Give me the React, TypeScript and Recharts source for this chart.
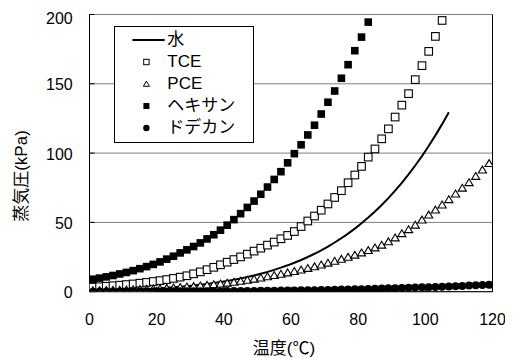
import React from 'react';
import { ScatterChart, Scatter, XAxis, YAxis, CartesianGrid, ReferenceLine, Legend, Label } from 'recharts';

const FONT = '"Liberation Sans", Arial, "Noto Sans CJK JP", sans-serif';

// temperatures (°C) at which the values were sampled
const tempsC = [1, 3, 5, 7, 9, 11, 13, 15, 17, 19, 21, 23, 25, 27, 29, 31, 33, 35, 37, 39, 41, 43, 45, 47, 49, 51, 53, 55, 57, 59, 61, 63, 65, 67, 69, 71, 73, 75, 77, 79, 81, 83, 85, 87, 89, 91, 93, 95, 97, 99, 101, 103, 105, 107, 109, 111, 113, 115, 117, 119];

const waterKPa = [0.657, 0.758, 0.873, 1.002, 1.148, 1.313, 1.498, 1.706, 1.938, 2.198, 2.487, 2.81, 3.169, 3.567, 4.008, 4.496, 5.034, 5.628, 6.281, 7.0, 7.788, 8.652, 9.596, 10.63, 11.75, 12.98, 14.31, 15.76, 17.34, 19.04, 20.89, 22.88, 25.04, 27.37, 29.88, 32.58, 35.48, 38.6, 41.94, 45.53, 49.37, 53.48, 57.87, 62.56, 67.55, 72.88, 78.56, 84.6, 91.03, 97.86, 105.1, 112.8, 120.9, 129.5];

const tceKPa = [3.3, 3.6, 3.95, 4.3, 4.7, 5.15, 5.6, 6.15, 6.7, 7.35, 8.0, 8.75, 9.6, 10.5, 11.5, 12.9, 14.3, 15.9, 17.6, 19.4, 21.3, 23.2, 25.1, 27.1, 29.3, 31.4, 33.6, 35.8, 38.2, 40.6, 43.4, 47.0, 51.0, 54.6, 58.8, 63.3, 68.0, 72.9, 78.6, 84.2, 90.4, 97.1, 103.0, 110.3, 117.5, 126.0, 134.6, 142.9, 153.0, 163.1, 173.4, 184.2, 195.7];

const pceKPa = [0.7, 0.79, 0.89, 1.0, 1.12, 1.26, 1.41, 1.58, 1.77, 1.98, 2.2, 2.45, 2.75, 3.05, 3.4, 3.75, 4.15, 4.6, 5.1, 5.6, 6.2, 6.8, 7.5, 8.3, 9.1, 9.9, 10.8, 11.7, 12.6, 13.6, 14.6, 15.7, 16.8, 18.0, 19.3, 20.6, 22.0, 23.4, 24.9, 26.4, 28.0, 29.7, 31.6, 33.6, 36.0, 38.8, 41.9, 44.8, 48.0, 51.7, 55.3, 58.9, 62.6, 66.4, 70.5, 74.7, 78.7, 83.2, 87.8, 92.5];

const hexaneKPa = [9.0, 9.8, 10.7, 11.7, 12.8, 13.9, 15.2, 16.6, 18.1, 19.7, 21.5, 23.5, 25.6, 28.0, 30.2, 32.6, 35.2, 38.1, 41.1, 44.4, 48.0, 52.0, 56.3, 60.8, 65.4, 70.3, 75.5, 81.0, 86.6, 93.0, 99.6, 106.0, 113.1, 120.1, 128.2, 136.7, 144.8, 154.0, 163.8, 173.9, 183.7, 194.5];

const dodecaneKPa = [0.05, 0.06, 0.08, 0.09, 0.1, 0.11, 0.13, 0.14, 0.16, 0.18, 0.2, 0.22, 0.24, 0.26, 0.28, 0.3, 0.33, 0.35, 0.38, 0.4, 0.43, 0.45, 0.48, 0.51, 0.55, 0.6, 0.65, 0.71, 0.78, 0.84, 0.9, 0.97, 1.05, 1.12, 1.2, 1.3, 1.4, 1.5, 1.6, 1.72, 1.85, 1.97, 2.1, 2.25, 2.4, 2.55, 2.7, 2.85, 3.0, 3.15, 3.3, 3.45, 3.6, 3.8, 4.0, 4.2, 4.4, 4.6, 4.8, 5.0];

const xTicks = [0, 20, 40, 60, 80, 100, 120];
const yTicks = [0, 50, 100, 150, 200];
const seriesNames = ['水', 'TCE', 'PCE', 'ヘキサン', 'ドデカン'];

const build = (vals: number[]) => vals.map((v, i) => ({ t: tempsC[i], v }));

const waterData = build(waterKPa);
const tceData = build(tceKPa);
const pceData = build(pceKPa);
const hexaneData = build(hexaneKPa);
const dodecaneData = build(dodecaneKPa);

const NoShape = () => <g />;
const HollowSquare = (p: any) => (
  <rect x={p.cx - 3.8} y={p.cy - 3.8} width={7.6} height={7.6} fill="#fff" stroke="#000" strokeWidth={1.1} />
);
const HollowTriangle = (p: any) => (
  <path d={`M${p.cx},${p.cy - 3.9} L${p.cx + 4.1},${p.cy + 3} L${p.cx - 4.1},${p.cy + 3} Z`} fill="#fff" stroke="#000" strokeWidth={1.1} />
);
const FilledSquare = (p: any) => (
  <rect x={p.cx - 3.8} y={p.cy - 3.8} width={7.6} height={7.6} fill="#000" />
);
const FilledCircle = (p: any) => <circle cx={p.cx} cy={p.cy} r={4} fill="#000" />;

const legendIcon = (i: number) => {
  const cx = 31.4;
  const cy = 11;
  switch (i) {
    case 0:
      return <line x1={17.4} x2={49.7} y1={cy} y2={cy} stroke="#000" strokeWidth={2} />;
    case 1:
      return <rect x={cx - 2.7} y={cy - 2.7} width={5.4} height={5.4} fill="#fff" stroke="#000" strokeWidth={1} />;
    case 2:
      return <path d={`M${cx},${cy - 3} L${cx + 3},${cy + 2.3} L${cx - 3},${cy + 2.3} Z`} fill="#fff" stroke="#000" strokeWidth={1} />;
    case 3:
      return <rect x={cx - 3} y={cy - 3} width={6} height={6} fill="#000" />;
    default:
      return <circle cx={cx} cy={cy} r={3.2} fill="#000" />;
  }
};

const renderLegend = () => (
  <div
    style={{
      width: 140,
      height: 117,
      boxSizing: 'border-box',
      border: '1px solid #000',
      background: '#fff',
      paddingTop: 2.5,
      fontFamily: FONT,
      fontSize: 17,
      color: '#000',
    }}
  >
    {seriesNames.map((n, i) => (
      <div key={n} style={{ height: 22.1, display: 'flex', alignItems: 'center' }}>
        <svg width={52} height={22} style={{ flex: 'none', display: 'block' }}>
          {legendIcon(i)}
        </svg>
        <span style={{ lineHeight: '22px', whiteSpace: 'nowrap' }}>{n}</span>
      </div>
    ))}
  </div>
);

export default function App() {
  return (
    <ScatterChart width={505} height={350} margin={{ top: 6.5, right: 20.5, bottom: 36.3, left: 0 }}>
      <CartesianGrid horizontal vertical={false} stroke="#808080" strokeWidth={1} />
      <XAxis
        type="number"
        dataKey="t"
        domain={[0, 120]}
        ticks={xTicks}
        height={30}
        tickSize={-5}
        tickMargin={27}
        axisLine={{ stroke: '#000', strokeWidth: 1 }}
        tickLine={{ stroke: '#000' }}
        tick={{ fontSize: 16, fill: '#000', fontFamily: FONT }}
        allowDataOverflow
      >
        <Label
          content={() => (
            <text x={276} y={340} textAnchor="middle" dominantBaseline="central" fontSize={17} fontFamily={FONT} fill="#000">
              温度(℃)
            </text>
          )}
        />
      </XAxis>
      <YAxis
        type="number"
        dataKey="v"
        domain={[0, 200]}
        ticks={yTicks}
        width={81.5}
        tickSize={-5}
        tickMargin={21.8}
        axisLine={{ stroke: '#000', strokeWidth: 1 }}
        tickLine={{ stroke: '#000' }}
        tick={{ fontSize: 16, fill: '#000', fontFamily: FONT, dy: 1 }}
        allowDataOverflow
      >
        <Label
          content={() => (
            <text
              x={13.5}
              y={168}
              transform="rotate(-90 13.5 168)"
              textAnchor="middle"
              dominantBaseline="central"
              fontSize={17}
              fontFamily={FONT}
              fill="#000"
            >
              蒸気圧(kPa)
            </text>
          )}
        />
      </YAxis>
      <ReferenceLine y={200} stroke="#808080" strokeWidth={1} />
      <ReferenceLine x={120} stroke="#000" strokeWidth={1} />
      <Scatter name="水" data={waterData} line={{ stroke: '#000', strokeWidth: 2 }} lineType="joint" shape={NoShape} isAnimationActive={false} />
      <Scatter name="TCE" data={tceData} shape={HollowSquare} isAnimationActive={false} />
      <Scatter name="PCE" data={pceData} shape={HollowTriangle} isAnimationActive={false} />
      <Scatter name="ヘキサン" data={hexaneData} shape={FilledSquare} isAnimationActive={false} />
      <Scatter name="ドデカン" data={dodecaneData} shape={FilledCircle} isAnimationActive={false} />
      <Legend
        layout="vertical"
        align="center"
        verticalAlign="middle"
        content={renderLegend}
        wrapperStyle={{ left: 106.3, top: 17.5, width: 140, height: 117 }}
      />
    </ScatterChart>
  );
}
